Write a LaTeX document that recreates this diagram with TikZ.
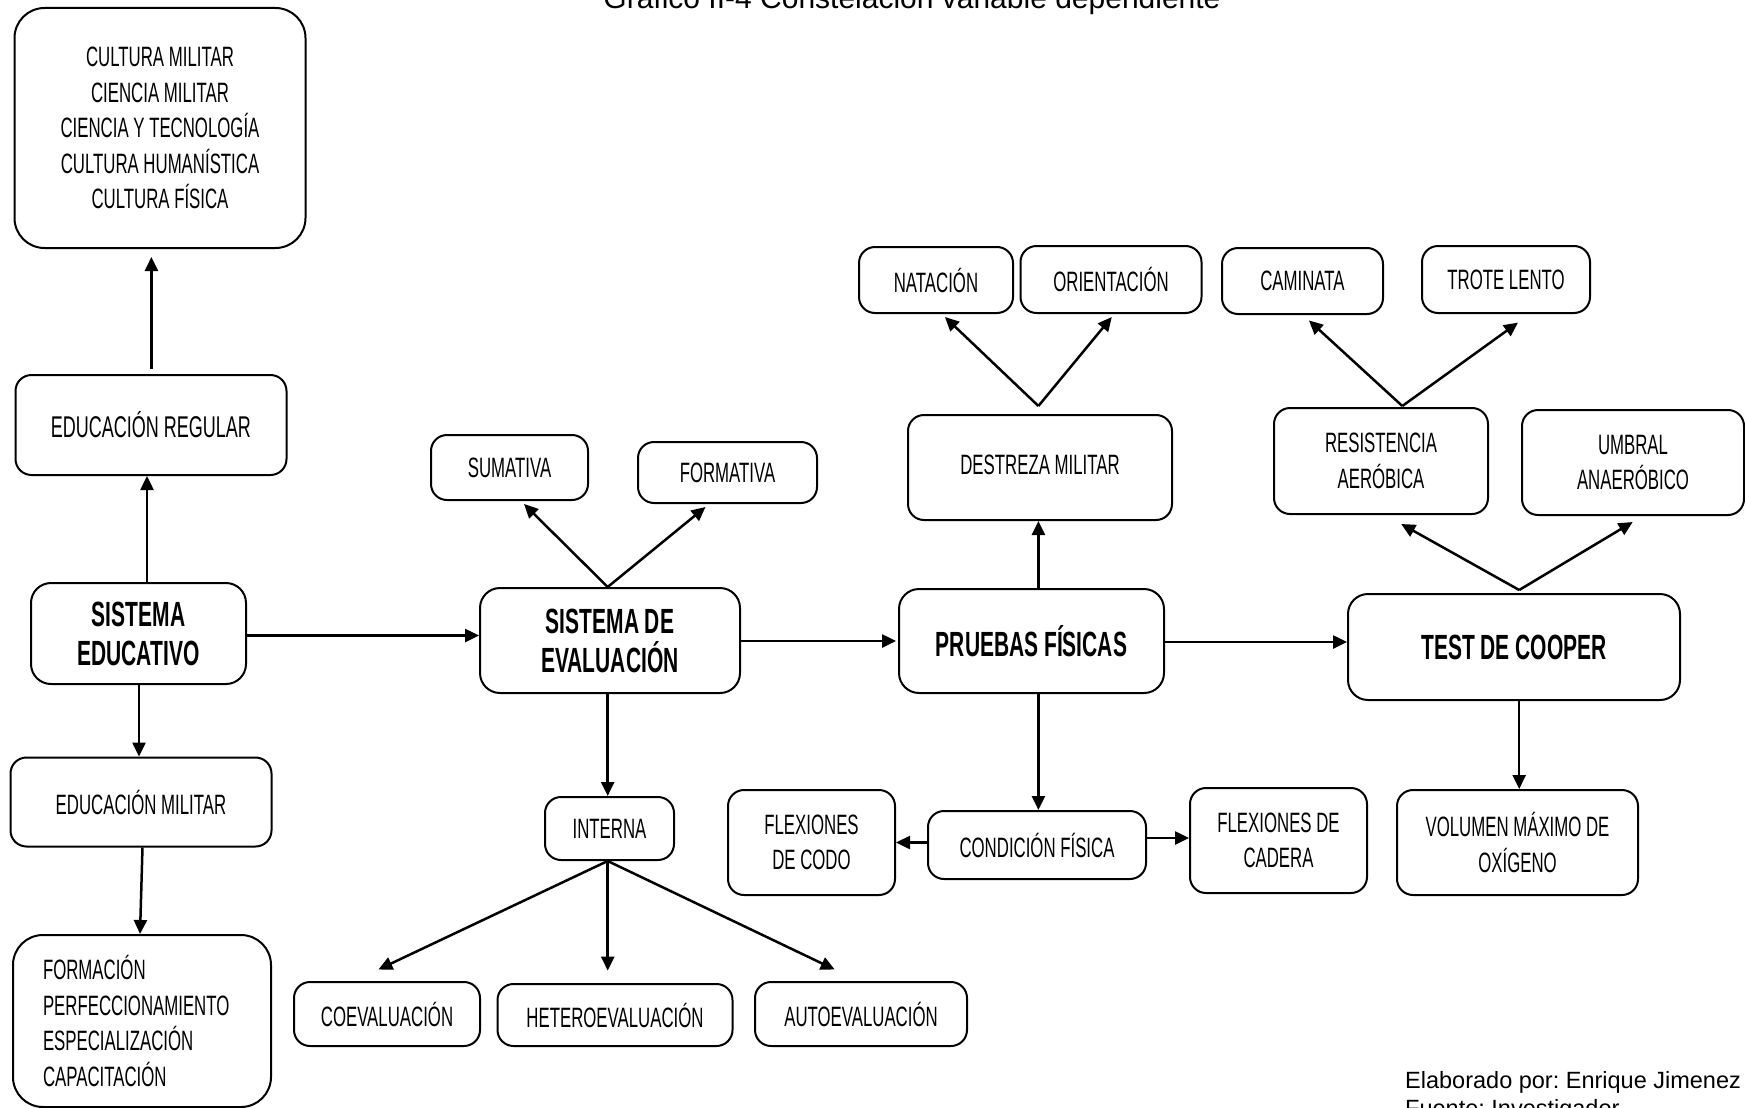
\documentclass[tikz,border=0pt]{standalone}
\usepackage{fontspec}
\setmainfont{Liberation Sans}
\newfontfamily\agency[FakeStretch=0.6]{Liberation Sans}
\newfontfamily\agencyb[FakeStretch=0.6]{Liberation Sans}
\usetikzlibrary{arrows.meta}
\frenchspacing
\tikzset{
  box/.style={draw, line width=2pt, rounded corners=16pt, inner sep=0pt, align=center,
    font=\agency\fontsize{28}{35.5}\selectfont},
  bigbox/.style={box, rounded corners=30pt},
  bbox/.style={box, rounded corners=20pt, font=\agencyb\bfseries\fontsize{35}{39}\selectfont},
  arr/.style={line width=2.5pt, -{Triangle[length=14pt,width=13pt]}},
  plain/.style={inner sep=0pt},
}
\begin{document}
\begin{tikzpicture}[x=1pt,y=-1pt]
\fill[white] (0,0) rectangle (1745,1108);
\useasboundingbox (0,0) rectangle (1745,1108);
\clip (0,0) rectangle (1745,1108);

% title and credits
\node[plain, anchor=base, font=\fontsize{30}{36}\selectfont] (title) at (912,9) {Gráfico II-4 Constelación variable dependiente};
\node[plain, anchor=base west, font=\fontsize{23.5}{30}\selectfont] (cred1) at (1405,1088) {Elaborado por: Enrique Jimenez};
\node[plain, anchor=base west, font=\fontsize{23.5}{30}\selectfont] (cred2) at (1405,1116) {Fuente: Investigador};

% left column
\node[bigbox, minimum width=291pt, minimum height=240pt] (cult) at (160,128)
  {CULTURA MILITAR\\CIENCIA MILITAR\\CIENCIA Y TECNOLOGÍA\\CULTURA HUMANÍSTICA\\CULTURA FÍSICA};
\node[box, minimum width=271pt, minimum height=100pt, font=\agency\fontsize{30}{35.5}\selectfont] (edreg) at (151,425) {EDUCACIÓN REGULAR};
\node[bbox, minimum width=215pt, minimum height=101pt] (sisedu) at (138.5,633.5) {SISTEMA\\EDUCATIVO};
\node[box, minimum width=261pt, minimum height=89pt] (edmil) at (141,802) {EDUCACIÓN MILITAR};
\node[bigbox, minimum height=172pt, text width=198pt, inner xsep=30pt, align=left] (form) at (142,1021)
  {FORMACIÓN\\PERFECCIONAMIENTO\\ESPECIALIZACIÓN\\CAPACITACIÓN};

% evaluation column
\node[box, minimum width=157pt, minimum height=65pt] (sum) at (509.5,467.5) {SUMATIVA};
\node[box, minimum width=179pt, minimum height=61pt] (formt) at (727.5,472.5) {FORMATIVA};
\node[bbox, minimum width=260pt, minimum height=105pt] (siseval) at (610,640.5) {SISTEMA DE\\EVALUACIÓN};
\node[box, minimum width=129pt, minimum height=63pt] (interna) at (609.5,828.5) {INTERNA};
\node[box, minimum width=186pt, minimum height=64pt] (coev) at (387,1014) {COEVALUACIÓN};
\node[box, minimum width=235pt, minimum height=62pt] (hetero) at (615,1015) {HETEROEVALUACIÓN};
\node[box, minimum width=212pt, minimum height=64pt] (autoev) at (861,1014) {AUTOEVALUACIÓN};

% pruebas column
\node[box, minimum width=154pt, minimum height=66pt] (nat) at (936,280) {NATACIÓN};
\node[box, minimum width=181pt, minimum height=67pt] (orient) at (1111,279.5) {ORIENTACIÓN};
\node[box, minimum width=264pt, minimum height=105pt] (destreza) at (1040,467.5) {\raisebox{6pt}{DESTREZA MILITAR}};
\node[bbox, minimum width=265pt, minimum height=104pt] (pruebas) at (1031.5,641) {PRUEBAS FÍSICAS};
\node[box, minimum width=218pt, minimum height=68pt] (cond) at (1037,845) {CONDICIÓN FÍSICA};
\node[box, minimum width=167pt, minimum height=105pt] (flexcodo) at (811.5,842.5) {FLEXIONES\\DE CODO};
\node[box, minimum width=177pt, minimum height=105pt] (flexcad) at (1278.5,840.5) {FLEXIONES DE\\CADERA};

% cooper column
\node[box, minimum width=161pt, minimum height=66pt] (cam) at (1302.5,281) {CAMINATA};
\node[box, minimum width=168pt, minimum height=67pt] (trote) at (1506,279.5) {TROTE LENTO};
\node[box, minimum width=214pt, minimum height=106pt] (resist) at (1381,461) {RESISTENCIA\\AERÓBICA};
\node[box, minimum width=222pt, minimum height=105pt] (umbral) at (1633,462.5) {UMBRAL\\ANAERÓBICO};
\node[bbox, minimum width=332pt, minimum height=106pt] (test) at (1514,647) {TEST DE COOPER};
\node[box, minimum width=241pt, minimum height=105pt] (vol) at (1517.5,842.5) {VOLUMEN MÁXIMO DE\\OXÍGENO};

% connectors: left
\draw[arr] ([xshift=8.5pt]sisedu.north) -- ([xshift=-4pt]edreg.south);
\draw[arr] ([xshift=0.4pt,yshift=5.5pt]edreg.north) -- ([xshift=-8.6pt,yshift=-8pt]cult.south);
\draw[arr] ([xshift=0.5pt]sisedu.south) -- ([xshift=-2pt]edmil.north);
\draw[arr] ([xshift=1.5pt]edmil.south) -- ([xshift=-2pt]form.north);
\draw[arr] ([yshift=-2pt]sisedu.east) -- ([yshift=5pt]siseval.west);

% connectors: evaluation
\draw[arr] ([xshift=-2.3pt]siseval.north) -- ([xshift=14.5pt,yshift=-3pt]sum.south);
\draw[arr] ([xshift=-2.3pt]siseval.north) -- ([xshift=-22pt,yshift=-3pt]formt.south);
\draw[arr] ([xshift=-2.3pt]siseval.south) -- ([xshift=-1.8pt]interna.north);
\draw[arr] ([xshift=-1.8pt]interna.south) -- ([xshift=-8.6pt,yshift=11.5pt]coev.north);
\draw[arr] ([xshift=-1.8pt]interna.south) -- ([xshift=-7.3pt,yshift=12.4pt]hetero.north);
\draw[arr] ([xshift=-1.8pt]interna.south) -- ([xshift=-26.3pt,yshift=11.5pt]autoev.north);
\draw[arr] ([yshift=-0.5pt]siseval.east) -- ([xshift=-2pt]pruebas.west);

% connectors: pruebas
\draw[arr] ([xshift=6.9pt]pruebas.north) -- ([xshift=-1.6pt]destreza.south);
\draw[arr] ([xshift=-1.6pt,yshift=8pt]destreza.north) -- ([xshift=8.9pt,yshift=-3pt]nat.south);
\draw[arr] ([xshift=-1.6pt,yshift=8pt]destreza.north) -- ([xshift=0.8pt,yshift=-3pt]orient.south);
\draw[arr] ([xshift=6.9pt]pruebas.south) -- ([xshift=1.4pt]cond.north);
\draw[arr] ([yshift=2.5pt]cond.west) -- (flexcodo.east);
\draw[arr] ([yshift=7pt]cond.east) -- ([yshift=2.5pt]flexcad.west);
\draw[arr] ([yshift=-1pt]pruebas.east) -- ([yshift=5pt]test.west);

% connectors: cooper
\draw[arr] ([xshift=21.3pt,yshift=1pt]resist.north) -- ([xshift=6.4pt,yshift=-5.4pt]cam.south);
\draw[arr] ([xshift=21.3pt,yshift=1pt]resist.north) -- ([xshift=12pt,yshift=-8.6pt]trote.south);
\draw[arr] ([xshift=5.2pt,yshift=3pt]test.north) -- ([xshift=20.2pt,yshift=-9pt]resist.south);
\draw[arr] ([xshift=5.2pt,yshift=3pt]test.north) -- ([xshift=-0.3pt,yshift=-6pt]umbral.south);
\draw[arr] ([xshift=5.2pt]test.south) -- ([xshift=1.7pt]vol.north);
\end{tikzpicture}
\end{document}
